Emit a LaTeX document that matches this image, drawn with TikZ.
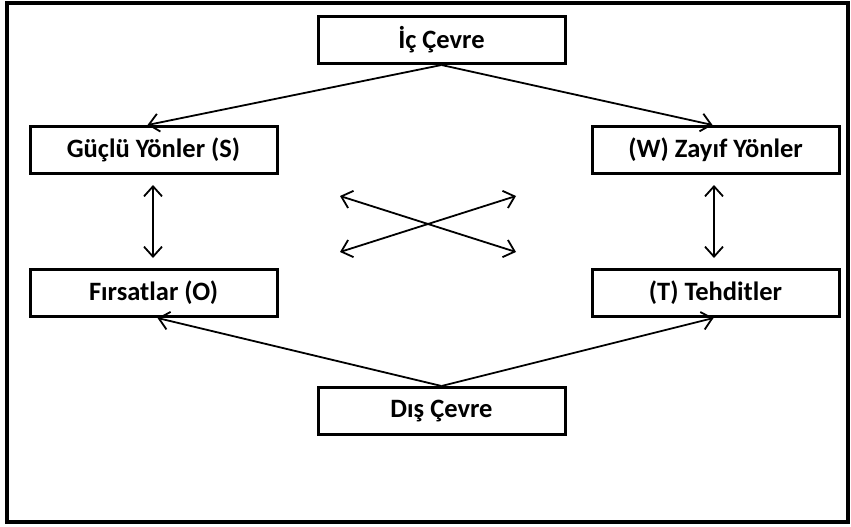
\documentclass[tikz,border=0pt]{standalone}
\usepackage{fontspec}
\setmainfont{Carlito}
\usetikzlibrary{arrows.meta}
\begin{document}
\begin{tikzpicture}[x=1pt,y=-1pt,
  box/.style={draw,line width=3pt,minimum width=247pt,minimum height=47pt,inner sep=0pt,font=\fontsize{26.5}{30}\selectfont\bfseries},
  tipv/.tip={Straight Barb[length=10pt,width=18pt]},
  conn/.style={line width=1.8pt,-tipv},
  dconn/.style={line width=1.8pt,tipv-tipv}]
\useasboundingbox (0,0) rectangle (851,527);
\draw[line width=3.5pt] (7,3) rectangle (848,522);
\node[box] (ic) at (441.5,40) {İç Çevre};
\node[box] (s) at (153.5,150) {Güçlü Yönler (S)};
\node[box] (w) at (715.5,150) {(W) Zayıf Yönler};
\node[box] (o) at (153.5,293) {Fırsatlar (O)};
\node[box] (t) at (715.5,293) {(T) Tehditler};
\node[box] (dis) at (441.5,411) {Dış Çevre};
\draw[conn] (ic.south) -- ([xshift=-6pt]s.north);
\draw[conn] (ic.south) -- ([xshift=-3pt]w.north);
\draw[conn] (dis.north) -- ([xshift=4pt]o.south);
\draw[conn] (dis.north) -- ([xshift=-2pt]t.south);
\coordinate (sa) at (153,185);
\coordinate (sb) at (153,258);
\coordinate (wa) at (714,185);
\coordinate (wb) at (714,258);
\draw[dconn] (sa) -- (sb);
\draw[dconn] (wa) -- (wb);
\coordinate (c1) at (340,196);
\coordinate (c2) at (516,252);
\coordinate (c3) at (340,252);
\coordinate (c4) at (516,196);
\draw[dconn] (c1) -- (c2);
\draw[dconn] (c3) -- (c4);
\end{tikzpicture}
\end{document}
